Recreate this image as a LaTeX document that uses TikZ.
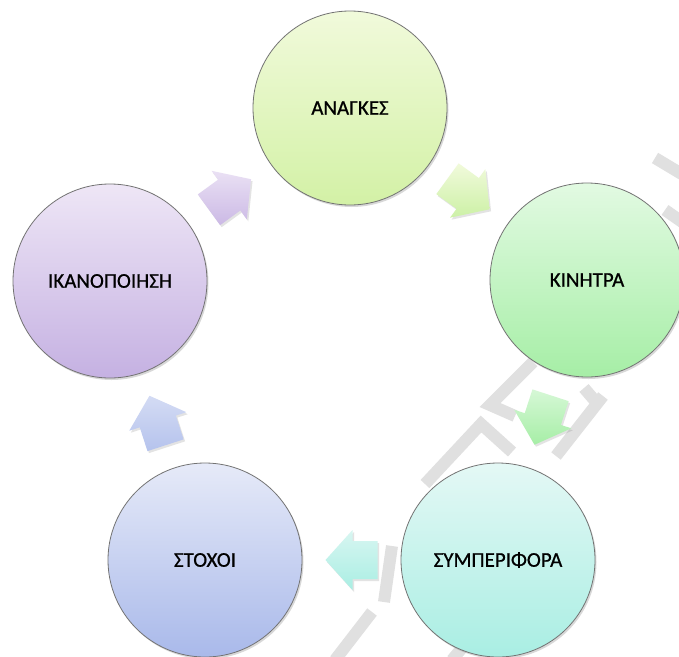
\documentclass[tikz,border=0pt]{standalone}
\usepackage{fontspec}
\setmainfont{Carlito}
\newfontfamily\lblfont[FakeBold=0.7]{Carlito}
\usetikzlibrary{calc,shadows}
\definecolor{aTop}{HTML}{F1FADB}\definecolor{aBot}{HTML}{D3F1A6}
\definecolor{kTop}{HTML}{E2FAE2}\definecolor{kBot}{HTML}{A6EEA6}
\definecolor{sTop}{HTML}{E4F8F5}\definecolor{sBot}{HTML}{A9EEE3}
\definecolor{gTop}{HTML}{E6EAF8}\definecolor{gBot}{HTML}{A9B9EA}
\definecolor{iTop}{HTML}{EEE6F6}\definecolor{iBot}{HTML}{C5B1E2}
\definecolor{wmgray}{HTML}{E0E0E0}
\newcommand\cycarrowpath{(-26,-19) -- (-1,-19) -- (-1,-30) -- (26,0) -- (-1,30) -- (-1,19) -- (-26,19) -- cycle}
\begin{document}
\begin{tikzpicture}[x=1pt,y=-1pt,
  bubble/.style={circle, minimum size=194pt, inner sep=0pt, draw=black!55, line width=0.8pt,
    font=\lblfont\fontsize{21}{25}\selectfont, text=black,
    drop shadow={opacity=0.3, shadow xshift=1.5pt, shadow yshift=-2pt}},
  cycarrow/.style={draw=none, drop shadow={opacity=0.22, shadow xshift=1.5pt, shadow yshift=-2pt}},
  wm/.style={draw=wmgray, line width=12pt},
]
\useasboundingbox (0,0) rectangle (679,656);
\clip (0,0) rectangle (679,656);
\fill[white] (0,0) rectangle (679,656);

% faint watermark strokes
\draw[wm] (533,362) -- (490,405) -- (515,416);
\draw[wm] (603,396) -- (556,456);
\draw[wm] (425,484) -- (481,424) -- (512,452);
\draw[wm] (392,546) -- (384,602);
\draw[wm] (335,660) -- (372,612);
\draw[wm] (452,660) -- (472,636);
\draw[wm] (655,158) -- (685,176);
\draw[wm] (665,210) -- (685,224);
\draw[wm] (584,388) -- (596,402);

% circles
\node[bubble, top color=aTop, bottom color=aBot] (A) at (350,108) {ΑΝΑΓΚΕΣ};
\node[bubble, top color=kTop, bottom color=kBot] (K) at (587,280) {ΚΙΝΗΤΡΑ};
\node[bubble, top color=sTop, bottom color=sBot] (S) at (498,560) {ΣΥΜΠΕΡΙΦΟΡΑ};
\node[bubble, top color=gTop, bottom color=gBot] (G) at (205,560) {ΣΤΟΧΟΙ};
\node[bubble, top color=iTop, bottom color=iBot] (I) at (110,281) {ΙΚΑΝΟΠΟΙΗΣΗ};

% block arrows between circles
\begin{scope}[shift={($(A)!0.5!(K)$)}, rotate=-36]
  \path[cycarrow, top color=aTop, bottom color=aBot!85!kBot] \cycarrowpath;
\end{scope}
\begin{scope}[shift={($(K)!0.5!(S)$)}, rotate=-108]
  \path[cycarrow, top color=kTop!80!kBot, bottom color=kBot] \cycarrowpath;
\end{scope}
\begin{scope}[shift={($(S)!0.5!(G)$)+(4,0)}, rotate=180]
  \path[cycarrow, top color=sTop!80!sBot, bottom color=sBot] \cycarrowpath;
\end{scope}
\begin{scope}[shift={($(G)!0.5!(I)$)+(2,2)}, rotate=108]
  \path[cycarrow, top color=gTop!70!gBot, bottom color=gBot!80!gTop] \cycarrowpath;
\end{scope}
\begin{scope}[shift={($(I)!0.5!(A)$)}, rotate=36]
  \path[cycarrow, top color=iTop!90!iBot, bottom color=iBot!85!iTop] \cycarrowpath;
\end{scope}
\end{tikzpicture}
\end{document}
